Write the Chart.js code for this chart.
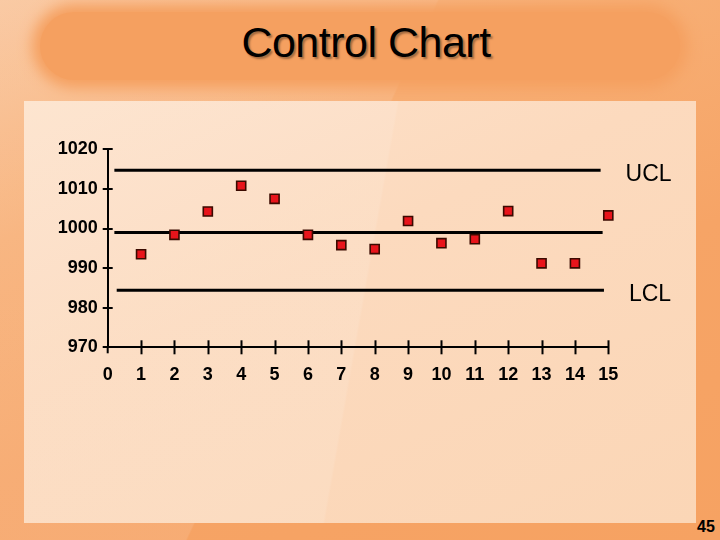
<!DOCTYPE html>
<html>
<head>
<meta charset="utf-8">
<script src="https://cdn.jsdelivr.net/npm/chart.js@4/dist/chart.umd.min.js"></script>
<style>
  html, body { margin: 0; padding: 0; }
  body { width: 720px; height: 540px; position: relative; overflow: hidden;
    background: linear-gradient(160deg, #F9C49A 0%, #F7AE74 30%, #F6A466 60%, #F6A262 100%);
    font-family: "Liberation Sans", Arial, sans-serif; }
  #streak { position: absolute; left: 0; top: 0; width: 720px; height: 540px;
    background: linear-gradient(115deg, rgba(255,255,255,0.10) 0%, rgba(255,255,255,0.10) 45%, rgba(255,255,255,0) 45.2%); }
  #pill { position: absolute; left: 40px; top: 12px; width: 640px; height: 68px; border-radius: 34px;
    background: #F5A060; box-shadow: 0 0 14px 8px #F5A060; }
  #title { position: absolute; left: 0; top: 18px; width: 732px; text-align: center;
    font-size: 43px; color: #000; text-shadow: 2px 2px 2px rgba(0,0,0,0.35); letter-spacing: -0.5px; }
  #panel { position: absolute; left: 24px; top: 101px; width: 672px; height: 422px;
    background: linear-gradient(155deg, #FDE2CB 0%, #FCDABE 40%, #FBD6B6 100%); }
  #panelstreak { position: absolute; left: 24px; top: 101px; width: 672px; height: 422px;
    background: linear-gradient(100deg, rgba(255,255,255,0.10) 0%, rgba(255,255,255,0.10) 50%, rgba(255,255,255,0) 50.3%); }
  #page { position: absolute; left: 697px; top: 518px; font-size: 16px; font-weight: bold; color: #000; }
  canvas { position: absolute; left: 0; top: 0; }
</style>
</head>
<body>
<div id="streak"></div>
<div id="pill"></div>
<div id="title">Control Chart</div>
<div id="panel"></div>
<div id="panelstreak"></div>
<div id="page">45</div>
<canvas id="c" width="720" height="540"></canvas>
<script>
// ---- data ----
const samples = [1, 2, 3, 4, 5, 6, 7, 8, 9, 10, 11, 12, 13, 14, 15];
const values = [993.5, 998.4, 1004.3, 1010.8, 1007.5, 998.4, 995.8, 994.8, 1001.9, 996.3, 997.3, 1004.4, 991.2, 991.2, 1003.3];
const limitNames = ["UCL", "CL", "LCL"];
const limitValues = [1014.7, 999.0, 984.4];
const limitStart = [0.2, 0.2, 0.27];
const limitEnd = [14.77, 14.83, 14.87];
const limitLabels = ["UCL", "", "LCL"];
const xMin = 0, xMax = 15, yMin = 970, yMax = 1020, yStep = 10;

const points = samples.map((s, i) => ({ x: s, y: values[i] }));
const limitDatasets = limitValues.map((v, i) => ({
  type: 'line',
  label: limitNames[i],
  data: [{ x: limitStart[i], y: v }, { x: limitEnd[i], y: v }],
  borderColor: '#000',
  borderWidth: 3,
  pointRadius: 0,
  fill: false,
  order: 2
}));

const crossTicks = {
  id: 'crossTicks',
  afterDraw(chart) {
    const ctx = chart.ctx;
    const xs = chart.scales.x, ys = chart.scales.y;
    ctx.save();
    ctx.strokeStyle = '#000';
    ctx.lineWidth = 2;
    xs.ticks.forEach(t => {
      if (t.value === xMin) return;
      const px = Math.round(xs.getPixelForValue(t.value)) + 0.5;
      ctx.beginPath();
      ctx.moveTo(px, ys.bottom - 7);
      ctx.lineTo(px, ys.bottom + 7);
      ctx.stroke();
    });
    ys.ticks.forEach(t => {
      const py = Math.round(ys.getPixelForValue(t.value));
      ctx.beginPath();
      ctx.moveTo(xs.left - 5, py);
      ctx.lineTo(xs.left + 5, py);
      ctx.stroke();
    });
    ctx.beginPath();
    ctx.moveTo(xs.left, ys.bottom);
    ctx.lineTo(xs.left, ys.bottom + 6);
    ctx.stroke();
    ctx.fillStyle = '#000';
    ctx.font = '23px "Liberation Sans", Arial, sans-serif';
    ctx.textAlign = 'left';
    ctx.textBaseline = 'middle';
    limitValues.forEach((v, i) => {
      if (!limitLabels[i]) return;
      const px = xs.getPixelForValue(limitEnd[i]) + 25;
      const py = ys.getPixelForValue(v) + 4;
      ctx.fillText(limitLabels[i], px, py);
    });
    ctx.restore();
  }
};

const tickFont = { family: '"Liberation Sans", Arial, sans-serif', size: 18, weight: 'bold' };

new Chart(document.getElementById('c'), {
  type: 'scatter',
  data: {
    datasets: [
      ...limitDatasets,
      {
        label: 'Samples',
        data: points,
        pointStyle: 'rect',
        pointRadius: 6.4,
        pointHoverRadius: 6.4,
        backgroundColor: '#E8141B',
        borderColor: '#3A0A00',
        borderWidth: 1.6,
        showLine: false,
        clip: false,
        order: 1
      }
    ]
  },
  options: {
    responsive: false,
    animation: false,
    events: [],
    layout: { padding: { left: 47.7, right: 111.7, top: 149.3, bottom: 152.7 } },
    plugins: { legend: { display: false }, tooltip: { enabled: false }, title: { display: false } },
    scales: {
      x: {
        type: 'linear',
        min: xMin, max: xMax,
        afterFit(s) { s.height = 40; },
        ticks: { stepSize: 1, color: '#000', padding: 17, font: tickFont, callback: v => String(v) },
        grid: { display: true, drawOnChartArea: false, drawTicks: false, color: 'rgba(0,0,0,0)' },
        border: { display: true, color: '#000', width: 2 }
      },
      y: {
        type: 'linear',
        min: yMin, max: yMax,
        afterFit(s) { s.width = 60; },
        ticks: { stepSize: yStep, color: '#000', padding: 10, font: tickFont, callback: v => String(v) },
        grid: { display: true, drawOnChartArea: false, drawTicks: false, color: 'rgba(0,0,0,0)' },
        border: { display: true, color: '#000', width: 2 }
      }
    }
  },
  plugins: [crossTicks]
});
</script>
</body>
</html>
